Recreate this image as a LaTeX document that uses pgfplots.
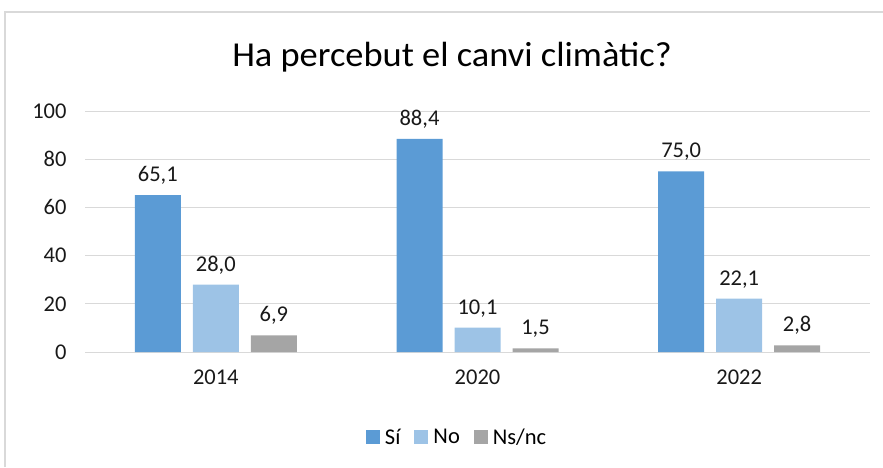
\documentclass[border=0pt]{standalone}
\usepackage{pgfplots}
\pgfplotsset{compat=1.18}
\usepackage{fontspec}
\setmainfont{Carlito}
\definecolor{csi}{HTML}{5B9BD5}
\definecolor{cno}{HTML}{9DC3E6}
\definecolor{cns}{HTML}{A5A5A5}
\definecolor{cgrid}{HTML}{D9D9D9}
\begin{document}
\begin{tikzpicture}[x=1pt,y=1pt]
\useasboundingbox (0,0) rectangle (883,467);
\draw[cgrid, line width=1.2pt] (5,0) -- (5,455) -- (883,455);
\node[font=\fontsize{35}{42}\selectfont, anchor=base] at (452,400) {\scalebox{1.04}[1]{Ha percebut el canvi climàtic?}};
\begin{axis}[
  at={(85pt,115pt)}, anchor=south west,
  scale only axis, width=785pt, height=241pt,
  xmin=-0.5, xmax=2.5, ymin=0, ymax=100,
  ybar, bar width=46pt,
  xtick={0,1,2}, xticklabels={2014,2020,2022},
  ytick={0,20,40,60,80,100},
  major tick length=0pt,
  ymajorgrids, grid style={cgrid, line width=1pt},
  axis x line*=bottom, axis y line*=left,
  x axis line style={cgrid, line width=1pt, -},
  y axis line style={draw=none},
  tick label style={font=\fontsize{22.5}{27}\selectfont, text=black!90},
  /pgf/number format/assume math mode=true,
  yticklabel style={xshift=-15pt},
  xticklabel style={yshift=-14pt},
  clip=false,
  nodes near coords,
  nodes near coords style={font=\fontsize{22.5}{27}\selectfont, text=black!90, anchor=south, yshift=7pt,
    /pgf/number format/.cd, fixed, fixed zerofill, precision=1, use comma, assume math mode=true},
  legend style={draw=none, at={(0.474,-0.353)}, anchor=center, legend columns=3,
    font=\fontsize{22.5}{27}\selectfont,
    /tikz/every even column/.append style={column sep=12pt},
    /tikz/every odd column/.append style={column sep=3pt}},
  legend image code/.code={\fill[#1,draw=none] (0pt,-7pt) rectangle (14pt,7pt);},
]
\addplot[fill=csi, draw=none, bar shift=-58pt] coordinates {(0,65.1) (1,88.4) (2,75.0)};
\addplot[fill=cno, draw=none, bar shift=0pt] coordinates {(0,28.0) (1,10.1) (2,22.1)};
\addplot[fill=cns, draw=none, bar shift=58pt] coordinates {(0,6.9) (1,1.5) (2,2.8)};
\legend{Sí,No,Ns/nc}
\end{axis}
\end{tikzpicture}
\end{document}
